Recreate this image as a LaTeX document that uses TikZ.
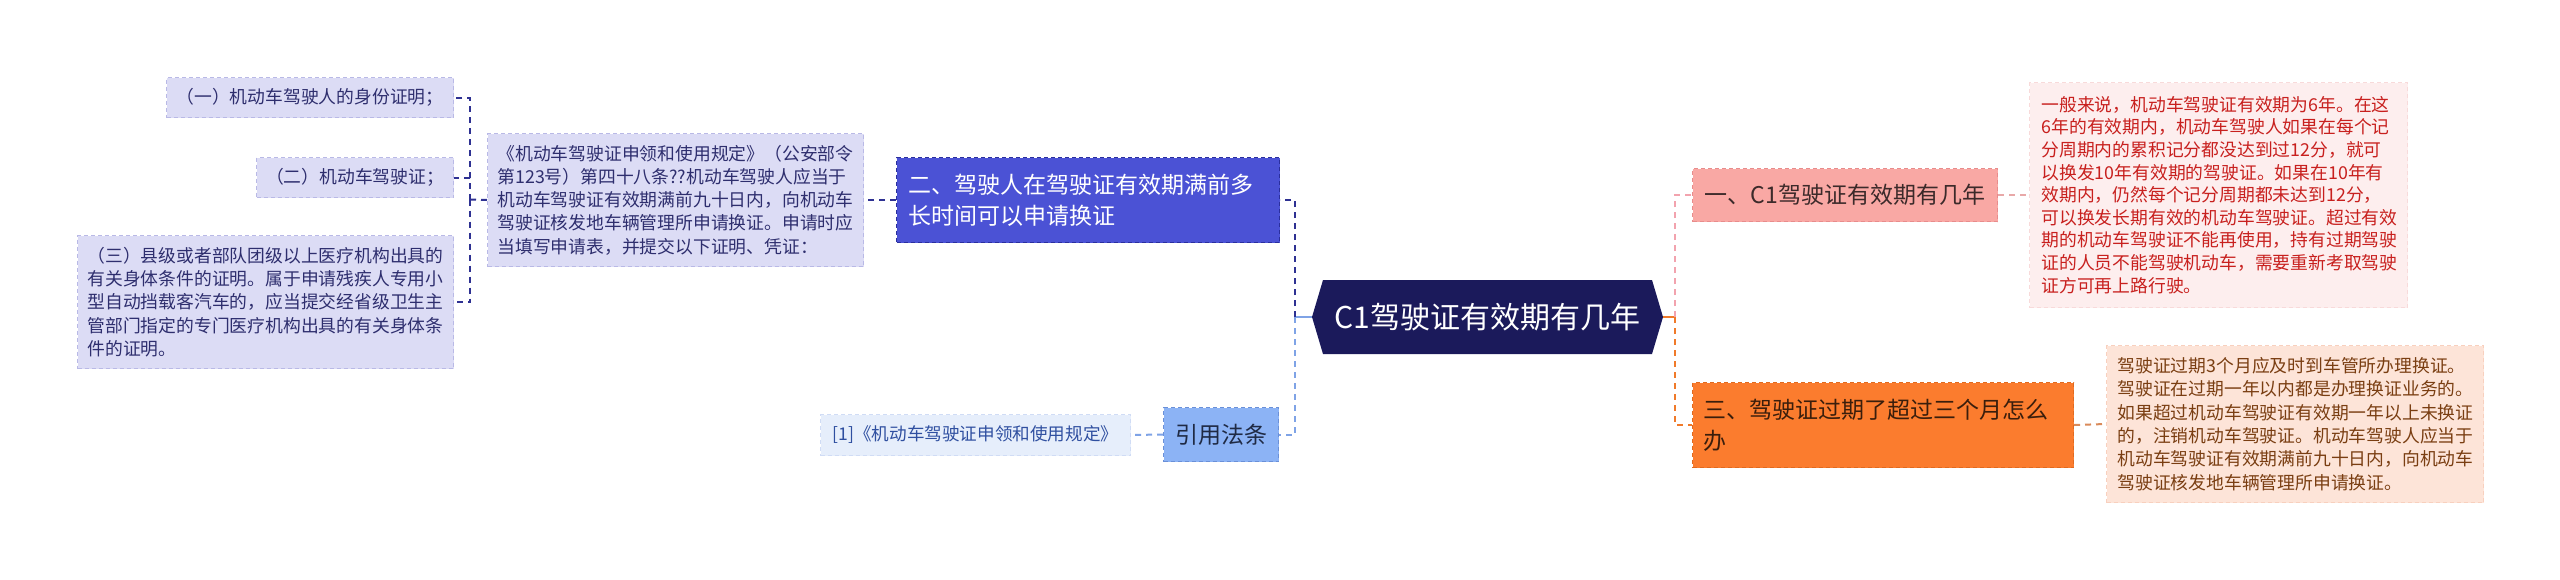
\documentclass[tikz,border=0pt]{standalone}
\usepackage{fontspec}
\setmainfont{Noto Sans CJK SC}
\usetikzlibrary{backgrounds,calc}
\definecolor{navyln}{HTML}{2E3192}
\definecolor{lavfill}{HTML}{DCDCF5}
\definecolor{lavbd}{HTML}{B9B9E6}
\definecolor{lavtxt}{HTML}{2E2E6E}
\definecolor{bluefill}{HTML}{4B52D5}
\definecolor{bluebd}{HTML}{2A2F9E}
\definecolor{citefill}{HTML}{8CB3F5}
\definecolor{citebd}{HTML}{6A90D8}
\definecolor{citetxt}{HTML}{1F2A44}
\definecolor{reffill}{HTML}{E6EEFB}
\definecolor{refbd}{HTML}{D0DCF5}
\definecolor{reftxt}{HTML}{2F4FA0}
\definecolor{lbln}{HTML}{7FA3E6}
\definecolor{hubc}{HTML}{1B1A5B}
\definecolor{orln}{HTML}{F07A2A}
\definecolor{pkln}{HTML}{F2A3AE}
\definecolor{onefill}{HTML}{F9A8A4}
\definecolor{onebd}{HTML}{E88C8C}
\definecolor{onetxt}{HTML}{3C2A2A}
\definecolor{threefill}{HTML}{FB7C2E}
\definecolor{threebd}{HTML}{E06A20}
\definecolor{threetxt}{HTML}{3A1E0C}
\definecolor{pkfill}{HTML}{FDEEEE}
\definecolor{pkbd}{HTML}{F8DADA}
\definecolor{pktxt}{HTML}{C8201E}
\definecolor{odfill}{HTML}{FDE4D8}
\definecolor{odbd}{HTML}{F8D0BE}
\definecolor{odtxt}{HTML}{7A3E12}
\definecolor{odln}{HTML}{D98A5A}
\definecolor{pkdln}{HTML}{E8A8A8}
\begin{document}
\begin{tikzpicture}[x=0.5pt,y=-0.5pt,
  box/.style={rectangle, inner sep=0pt, anchor=north west, line width=0.5pt, dash pattern=on 2pt off 1.5pt},
  small/.style={font=\fontsize{8.9pt}{11.6pt}\selectfont},
  mid/.style={font=\fontsize{11.5pt}{15.5pt}\selectfont},
  conn/.style={line width=1pt, dash pattern=on 3pt off 2.5pt},
  stub/.style={line width=1pt}]
\begin{scope}[on background layer]
\fill[white] (0,0) rectangle (2560,579);
\end{scope}
\useasboundingbox (0,0) rectangle (2560,579);

% left items
\node[box, small, fill=lavfill, draw=lavbd, text=lavtxt, minimum width=143.5pt, minimum height=20pt] (i1) at (166,77) {（一）机动车驾驶人的身份证明；};
\node[box, small, fill=lavfill, draw=lavbd, text=lavtxt, minimum width=98.5pt, minimum height=20pt] (i2) at (256,157) {（二）机动车驾驶证；};
\node[box, small, fill=lavfill, draw=lavbd, text=lavtxt, minimum width=188pt, minimum height=66.5pt, text width=178pt, align=left] (i3) at (77,235) {（三）县级或者部队团级以上医疗机构出具的\\有关身体条件的证明。属于申请残疾人专用小\\型自动挡载客汽车的，应当提交经省级卫生主\\管部门指定的专门医疗机构出具的有关身体条\\件的证明。};
\node[box, small, fill=lavfill, draw=lavbd, text=lavtxt, minimum width=188pt, minimum height=66.5pt, text width=178pt, align=left] (det) at (487,133) {《机动车驾驶证申领和使用规定》（公安部令\\第123号）第四十八条??机动车驾驶人应当于\\机动车驾驶证有效期满前九十日内，向机动车\\驾驶证核发地车辆管理所申请换证。申请时应\\当填写申请表，并提交以下证明、凭证：};
\node[box, mid, fill=bluefill, draw=bluebd, text=white, minimum width=191.5pt, minimum height=42.5pt, text width=179.5pt, align=left] (n2) at (896,157) {二、驾驶人在驾驶证有效期满前多\\长时间可以申请换证};
\node[box, font=\fontsize{8.8pt}{11pt}\selectfont, fill=reffill, draw=refbd, text=reftxt, minimum width=155pt, minimum height=20.5pt] (ref) at (820,414) {[1]《机动车驾驶证申领和使用规定》};
\node[box, mid, fill=citefill, draw=citebd, text=citetxt, minimum width=57.5pt, minimum height=27pt] (cite) at (1163,407) {引用法条};

% hub
\node[box, font=\fontsize{15pt}{18pt}\selectfont, text=white, minimum width=175pt, minimum height=36.5pt] (hub) at (1312,280) {C1驾驶证有效期有几年};
\begin{scope}[on background layer]
\fill[hubc] ($(hub.north west)+(11,0)$) -- ($(hub.north east)+(-11,0)$) -- (hub.east) -- ($(hub.south east)+(-11,0)$) -- ($(hub.south west)+(11,0)$) -- (hub.west) -- cycle;
\end{scope}

% right side
\node[box, mid, fill=onefill, draw=onebd, text=onetxt, minimum width=152.5pt, minimum height=26.5pt] (n1) at (1692,168) {一、C1驾驶证有效期有几年};
\node[box, mid, fill=threefill, draw=threebd, text=threetxt, minimum width=190.5pt, minimum height=42.5pt, text width=179.5pt, align=left] (n3) at (1692,382) {三、驾驶证过期了超过三个月怎么\\办};
\node[box, font=\fontsize{8.9pt}{11.3pt}\selectfont, fill=pkfill, draw=pkbd, text=pktxt, minimum width=189pt, minimum height=112.5pt, text width=177pt, align=left] (pk) at (2029,82) {一般来说，机动车驾驶证有效期为6年。在这\\6年的有效期内，机动车驾驶人如果在每个记\\分周期内的累积记分都没达到过12分，就可\\以换发10年有效期的驾驶证。如果在10年有\\效期内，仍然每个记分周期都未达到12分，\\可以换发长期有效的机动车驾驶证。超过有效\\期的机动车驾驶证不能再使用，持有过期驾驶\\证的人员不能驾驶机动车，需要重新考取驾驶\\证方可再上路行驶。};
\node[box, font=\fontsize{8.9pt}{11.65pt}\selectfont, fill=odfill, draw=odbd, text=odtxt, minimum width=188.5pt, minimum height=78.5pt, text width=177.5pt, align=left] (od) at (2106,345) {驾驶证过期3个月应及时到车管所办理换证。\\驾驶证在过期一年以内都是办理换证业务的。\\如果超过机动车驾驶证有效期一年以上未换证\\的，注销机动车驾驶证。机动车驾驶人应当于\\机动车驾驶证有效期满前九十日内，向机动车\\驾驶证核发地车辆管理所申请换证。};

% junctions
\coordinate (jL) at (1295,317);
\coordinate (jR) at (1675,317);
\coordinate (jD) at (470,199.5);

% connectors left
\draw[stub, lbln] (hub.west) -- (jL);
\draw[conn, navyln] (jL) |- (n2.east);
\draw[conn, lbln] (jL) |- (cite.east);
\draw[conn, navyln] (n2.west) -- (det.east);
\draw[conn, navyln] (det.west) -- (jD);
\draw[conn, navyln] (jD) |- (i1.east);
\draw[conn, navyln] (jD) |- (i2.east);
\draw[conn, navyln] (jD) |- (i3.east);
\draw[conn, lbln] (cite.west) -- (ref.east);

% connectors right
\draw[stub, orln] (hub.east) -- (jR);
\draw[conn, pkln] (jR) |- (n1.west);
\draw[conn, orln] (jR) |- (n3.west);
\draw[conn, pkdln] (n1.east) -- (pk.west);
\draw[conn, odln] (n3.east) -- (od.west);
\end{tikzpicture}
\end{document}
